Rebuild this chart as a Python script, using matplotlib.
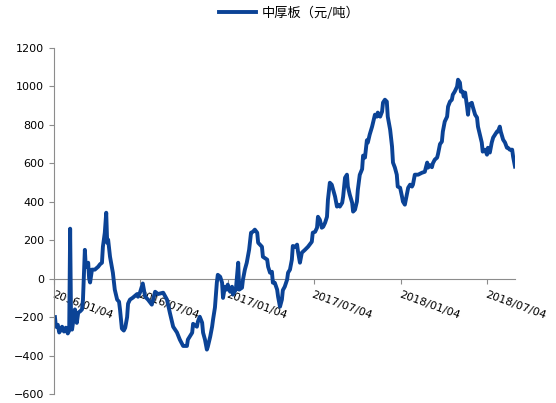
import numpy as np
import pandas as pd
from matplotlib import pyplot as plt
import matplotlib.dates as mdates

# medium plate price spread, days counted from 2016/01/04
start = pd.Timestamp("2016-01-04")
day_offset = [
    2, 4, 8, 11, 15, 17, 21, 25, 29, 32, 34, 36, 38, 44, 48, 51, 55, 59, 61, 65,
    67, 69, 72, 74, 76, 80, 86, 93, 97, 101, 103, 107, 110, 112, 114, 118, 124, 128, 133, 137,
    139, 143, 147, 150, 154, 156, 160, 166, 175, 177, 181, 187, 192, 198, 206, 213, 219, 230, 238, 244,
    251, 259, 265, 272, 280, 282, 291, 293, 301, 303, 307, 312, 314, 318, 322, 324, 329, 333, 335, 339,
    343, 345, 350, 354, 356, 360, 364, 366, 371, 375, 377, 383, 388, 390, 396, 398, 402, 406, 411, 415,
    419, 423, 428, 430, 438, 440, 449, 451, 455, 459, 461, 465, 470, 472, 476, 480, 482, 486, 491, 493,
    497, 501, 503, 508, 512, 514, 518, 522, 529, 535, 543, 545, 550, 554, 556, 560, 564, 567, 571, 575,
    577, 581, 585, 588, 592, 596, 598, 602, 607, 609, 613, 617, 619, 623, 628, 630, 634, 638, 640, 644,
    649, 651, 655, 659, 661, 665, 670, 672, 676, 680, 682, 687, 691, 693, 697, 701, 703, 708, 712, 714,
    718, 722, 724, 729, 733, 735, 739, 743, 746, 750, 754, 756, 760, 767, 775, 781, 786, 788, 792, 796,
    798, 802, 807, 809, 813, 817, 819, 823, 828, 830, 834, 838, 840, 844, 849, 851, 855, 857, 861, 863,
    866, 870, 872, 874, 880, 882, 887, 891, 893, 897, 901, 903, 908, 912, 914, 918, 922, 925, 929, 933,
    935, 939, 941, 946, 950, 954, 956, 960, 965, 967, 971,
]
spread = [
    -200, -250, -240, -280, -265, -250, -275, -255, -285, -270, 260, -240, -265, -160, -230, -177, -170, -160, -110, 150,
    60, 62, 83, 0, -20, 47, 47, 62, 75, 83, 166, 239, 343, 187, 203, 114, 31, -57, -109, -120,
    -160, -260, -270, -255, -200, -130, -109, -99, -80, -94, -73, -25, -94, -109, -135, -68, -80, -73, -109, -177,
    -250, -280, -317, -350, -350, -317, -281, -235, -250, -224, -198, -229, -281, -317, -369, -354, -302, -250, -213, -150,
    -20, 20, 10, -21, -100, -42, -57, -31, -68, -42, -83, -57, 83, -57, -47, -5, 47, 83, 151, 239,
    244, 255, 239, 187, 166, 114, 99, 62, 31, 36, -21, -21, -57, -94, -146, -109, -60, -42, -5, 31,
    47, 99, 170, 166, 177, 140, 83, 135, 151, 166, 192, 239, 244, 265, 322, 306, 265, 270, 291, 322,
    411, 499, 489, 463, 427, 375, 385, 375, 395, 427, 525, 541, 479, 437, 395, 349, 359, 401, 463, 540,
    570, 640, 630, 720, 708, 750, 791, 812, 853, 843, 864, 843, 869, 916, 931, 921, 843, 775, 687, 604,
    578, 541, 479, 473, 427, 401, 385, 437, 473, 489, 479, 489, 541, 541, 551, 556, 604, 578, 590, 580,
    600, 619, 630, 650, 700, 713, 765, 817, 843, 895, 921, 931, 957, 973, 999, 1035, 1020, 973, 973, 947,
    968, 895, 853, 905, 915, 895, 853, 838, 791, 749, 708, 661, 671, 645, 681, 656, 708, 734, 749, 765,
    765, 791, 765, 723, 708, 681, 681, 671, 671, 635, 583,
]
tick_dates = ["2016-01-04", "2016-07-04", "2017-01-04", "2017-07-04", "2018-01-04", "2018-07-04"]
y_ticks = list(range(-600, 1201, 200))

dates = start + pd.to_timedelta(day_offset, unit="D")

plt.rcParams['font.family'] = ['DejaVu Sans']
axis_gray = '#8c8c8c'
line_blue = '#0b4396'

fig = plt.figure(figsize=(5.56, 4.03), dpi=100)
ax = fig.add_axes([54 / 556, 1 - 394 / 403, (515 - 54) / 556, 346 / 403])

ax.plot(dates, spread, color=line_blue, linewidth=2.8, solid_joinstyle='round',
        label='中厚板（元/吨）')

ax.set_xlim(start, start + pd.Timedelta(days=971))
ax.set_ylim(-600, 1200)
ax.set_yticks(y_ticks)

# x axis crosses at zero, only the left axis line is kept
for side in ['top', 'right']:
    ax.spines[side].set_visible(False)
ax.spines['bottom'].set_position(('data', 0))
ax.spines['bottom'].set_color(axis_gray)
ax.spines['left'].set_color(axis_gray)
ax.spines['bottom'].set_zorder(1)

ax.set_xticks(pd.to_datetime(tick_dates))
ax.xaxis.set_major_formatter(mdates.DateFormatter('%Y/%m/%d'))
ax.tick_params(axis='both', colors=axis_gray, labelcolor='black', labelsize=8, length=3.5, width=0.8)
ax.tick_params(axis='x', pad=4)
for lbl in ax.get_xticklabels():
    lbl.set_rotation(-20)
    lbl.set_ha('left')
    lbl.set_va('top')
    lbl.set_rotation_mode('anchor')

fig.legend(loc='center', bbox_to_anchor=(0.52, 0.968), frameon=False, handlelength=2.8,
           handletextpad=0.4,
           prop={'family': ['Noto Sans CJK SC', 'DejaVu Sans'], 'size': 9.5})

plt.savefig('out.png', dpi=100)
